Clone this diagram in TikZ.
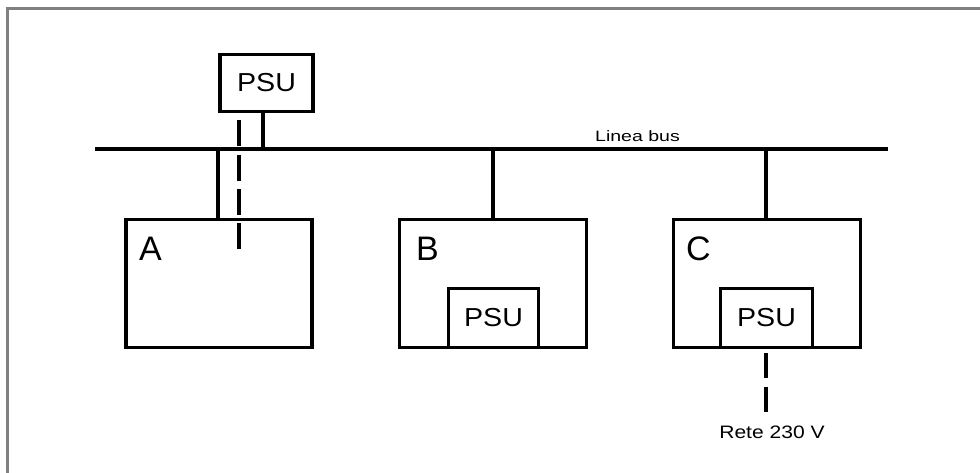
\documentclass[tikz,border=0pt]{standalone}
\usepackage{fontspec}
\setmainfont{Liberation Sans}
\begin{document}
\begin{tikzpicture}[x=1pt,y=-1pt,
  wire/.style={line width=3.2pt},
  box/.style={draw,line width=3.2pt,inner sep=0pt,anchor=center},
  psutext/.style={font=\fontsize{26}{30}\selectfont,xscale=1.1},
  letter/.style={font=\fontsize{34}{40}\selectfont,anchor=base west,inner sep=0pt},
  smalltext/.style={anchor=base,inner sep=0pt},
  dashA/.style={wire,dash pattern=on 26pt off 8.3pt,dash phase=27pt},
  dashB/.style={wire,dash pattern=on 25pt off 9pt,dash phase=30pt},
  frame/.style={draw=gray,line width=2.2pt}]
\useasboundingbox (0,0) rectangle (980,473);
% frame (top and left only)
\draw[frame] (7.5,473) -- (7.5,8.5) -- (980,8.5);
% bus
\coordinate (busL) at (95,149);
\coordinate (busR) at (888,149);
\draw[wire] (busL) -- (busR);
\node[smalltext,font=\fontsize{15}{18}\selectfont,xscale=1.3] (buslbl) at (637.5,142) {Linea bus};
% top PSU
\node[box,minimum width=93pt,minimum height=57pt] (psuTop) at (266.5,83) {};
\node[psutext] (psuTopT) at (psuTop) {PSU};
% boxes A, B, C
\node[box,minimum width=186pt,minimum height=128pt] (A) at (219,283.5) {};
\node[box,minimum width=187pt,minimum height=128pt] (B) at (493,283.5) {};
\node[box,minimum width=187pt,minimum height=128pt] (C) at (767,283.5) {};
\node[letter] (Al) at (139,261) {A};
\node[letter] (Bl) at (416,261) {B};
\node[letter] (Cl) at (686,261) {C};
% inner PSUs
\node[box,minimum width=90pt,minimum height=59pt] (psuB) at (493.5,318) {};
\node[psutext] (psuBT) at (psuB) {PSU};
\node[box,minimum width=92pt,minimum height=59pt] (psuC) at (766.5,318) {};
\node[psutext] (psuCT) at (psuC) {PSU};
% connectors
\coordinate (jP) at (263,149);
\draw[wire] (psuTop.south -| jP) -- (jP);
\coordinate (jA) at (218,149);
\draw[wire] (jA) -- (A.north -| jA);
\coordinate (jB) at (493,149);
\draw[wire] (jB) -- (B.north -| jB);
\coordinate (jC) at (766,149);
\draw[wire] (jC) -- (C.north -| jC);
% dashed supply lines
\coordinate (dA) at (239,250);
\draw[dashA] (psuTop.south -| dA) -- (dA);
\coordinate (dC) at (766,413);
\draw[dashB] (psuC.south -| dC) -- (dC);
\node[smalltext,font=\fontsize{18}{22}\selectfont,xscale=1.17] (rete) at (772,438) {Rete 230 V};
\end{tikzpicture}
\end{document}
